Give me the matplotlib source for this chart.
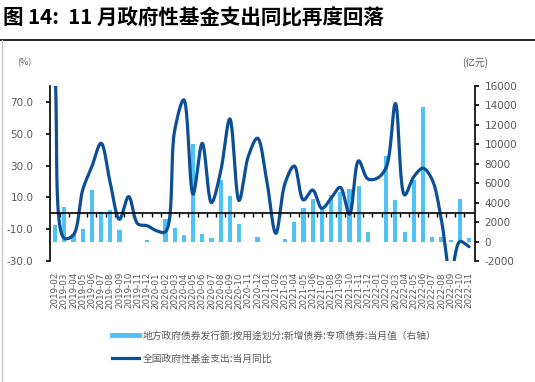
import numpy as np
import matplotlib
matplotlib.use("Agg")
import matplotlib.pyplot as plt
from matplotlib.lines import Line2D

plt.rcParams['font.family'] = ['Noto Sans CJK SC', 'DejaVu Sans']

months = ["2019-02", "2019-03", "2019-04", "2019-05", "2019-06", "2019-07", "2019-08", "2019-09",
          "2019-10", "2019-11", "2019-12", "2020-01", "2020-02", "2020-03", "2020-04", "2020-05",
          "2020-06", "2020-07", "2020-08", "2020-09", "2020-10", "2020-11", "2020-12", "2021-01",
          "2021-02", "2021-03", "2021-04", "2021-05", "2021-06", "2021-07", "2021-08", "2021-09",
          "2021-10", "2021-11", "2021-12", "2022-01", "2022-02", "2022-03", "2022-04", "2022-05",
          "2022-06", "2022-07", "2022-08", "2022-09", "2022-10", "2022-11"]

bond_issue = [1700, 3550, 800, 1290, 5300, 3000, 3240, 1180, 0, 0, 150, 0, 2280, 1350, 670, 10000,
              770, 360, 6330, 4680, 1800, 0, 500, 0, 0, 220, 2040, 3480, 4340, 3300, 4800, 5080,
              5360, 5700, 940, 0, 8800, 4230, 940, 6350, 13800, 520, 450, 180, 4400, 390]

fund_yoy = [88, -15.7, -13.5, 14.6, 29.3, 44, 19, -3.8, 10.5, -6.7, -7.8, -10.9, -11.6, 52, 71.3, 12,
            44, 6.7, 26.2, 59.3, 8, 35.6, 47.2, 21, -12.6, 18.9, 29.7, 8.4, 14.6, 3.1, 9.4, 16.3,
            -0.6, 33, 21.6, 22, 28.9, 69, 11.5, 23, 28.3, 21, -4.2, -38, -17.8, -21]

left_ticks = [-30, -10, 10, 30, 50, 70]
right_ticks = [-2000, 0, 2000, 4000, 6000, 8000, 10000, 12000, 14000, 16000]

title = "图 14:  11 月政府性基金支出同比再度回落"
bar_label = "地方政府债券发行额:按用途划分:新增债券:专项债券:当月值（右轴）"
line_label = "全国政府性基金支出:当月同比"

bar_color = "#4EC2F2"
line_color = "#0C4F97"
grey = "#595959"


def centripetal_spline(x, y, yscale, n=24, alpha=0.5):
    """Smooth the drawn line through the given points (centripetal Catmull-Rom)."""
    P = np.column_stack([np.asarray(x, float), np.asarray(y, float) * yscale])
    P = np.vstack([2 * P[0] - P[1], P, 2 * P[-1] - P[-2]])
    out = []
    for i in range(1, len(P) - 2):
        p0, p1, p2, p3 = P[i - 1], P[i], P[i + 1], P[i + 2]
        t0 = 0.0
        t1 = t0 + max(np.linalg.norm(p1 - p0), 1e-6) ** alpha
        t2 = t1 + max(np.linalg.norm(p2 - p1), 1e-6) ** alpha
        t3 = t2 + max(np.linalg.norm(p3 - p2), 1e-6) ** alpha
        t = np.linspace(t1, t2, n, endpoint=False)[:, None]
        a1 = (t1 - t) / (t1 - t0) * p0 + (t - t0) / (t1 - t0) * p1
        a2 = (t2 - t) / (t2 - t1) * p1 + (t - t1) / (t2 - t1) * p2
        a3 = (t3 - t) / (t3 - t2) * p2 + (t - t2) / (t3 - t2) * p3
        b1 = (t2 - t) / (t2 - t0) * a1 + (t - t0) / (t2 - t0) * a2
        b2 = (t3 - t) / (t3 - t1) * a2 + (t - t1) / (t3 - t1) * a3
        c = (t2 - t) / (t2 - t1) * b1 + (t - t1) / (t2 - t1) * b2
        out.append(c)
    out.append(P[-2][None, :])
    out = np.vstack(out)
    return out[:, 0], out[:, 1] / yscale


fig = plt.figure(figsize=(5.35, 3.82), dpi=100)
ax = fig.add_axes([50 / 535, 1 - 261 / 382, 425 / 535, 175 / 382])
ax2 = ax.twinx()
ax.set_zorder(ax2.get_zorder() + 1)
ax.patch.set_visible(False)

x = np.arange(len(months))
ax2.bar(x, bond_issue, width=0.45, color=bar_color, zorder=1)
ax2.set_ylim(-2000, 16000)
ax2.set_yticks(right_ticks)
ax2.set_yticklabels([str(v) for v in right_ticks])

sx, sy = centripetal_spline(x, fund_yoy, yscale=1.59 / 9.2)
ax.plot(sx, sy, color=line_color, lw=2.3, solid_capstyle='round', zorder=3)
ax.set_ylim(-30, 80)
ax.set_xlim(-0.55, 45.65)
ax.set_yticks(left_ticks)
ax.set_yticklabels([f"{v:.1f}" for v in left_ticks])
ax.axhline(0, color='black', lw=1.2, zorder=4)

sec = ax.secondary_xaxis(30 / 110)
sec.set_xticks(np.arange(0.5, len(months) - 1, 1))
sec.set_xticklabels([])
sec.tick_params(direction='out', length=3, width=1, color='black')
sec.spines['bottom'].set_visible(False)

ax.set_xticks(x)
ax.set_xticklabels(months, rotation=90, fontsize=6.3, color=grey, family='DejaVu Sans')
ax.tick_params(axis='x', length=0, pad=8)

for a in (ax, ax2):
    a.spines['top'].set_visible(False)
    a.spines['bottom'].set_visible(False)
ax.spines['right'].set_visible(False)
ax2.spines['left'].set_visible(False)
ax.spines['left'].set_linewidth(1.2)
ax2.spines['right'].set_linewidth(1.2)
ax.tick_params(axis='y', direction='out', length=3, width=1.2, labelsize=7.5, labelcolor=grey, pad=9)
ax2.tick_params(axis='y', direction='out', length=3, width=1.2, labelsize=7.5, labelcolor=grey, pad=4)
for lab in ax.get_yticklabels() + ax2.get_yticklabels():
    lab.set_family('DejaVu Sans')

fig.text(17 / 535, 1 - 63 / 382, "(%)", fontsize=6.5, color=grey, va='center', ha='left')
fig.text(462 / 535, 1 - 63 / 382, "(亿元)", fontsize=7, color=grey, va='center', ha='left')

fig.text(3 / 535, 1 - 18 / 382, title, fontsize=14.8, fontweight='bold', va='center', ha='left',
         color='black')
fig.add_artist(Line2D([0, 1], [1 - 40 / 382, 1 - 40 / 382], transform=fig.transFigure,
                      color='black', lw=1.2))
fig.add_artist(Line2D([2 / 535, 2 / 535], [0, 1 - 40 / 382], transform=fig.transFigure,
                      color='#C8C8C8', lw=1))

handles = [Line2D([], [], color=bar_color, lw=3.5), Line2D([], [], color=line_color, lw=2.3)]
fig.legend(handles, [bar_label, line_label], loc='upper left',
           bbox_to_anchor=(103 / 535, 1 - 322 / 382), frameon=False, fontsize=7,
           handlelength=2.8, labelspacing=1.3, handletextpad=0.4, labelcolor=grey)

fig.savefig("out.png", dpi=100)
